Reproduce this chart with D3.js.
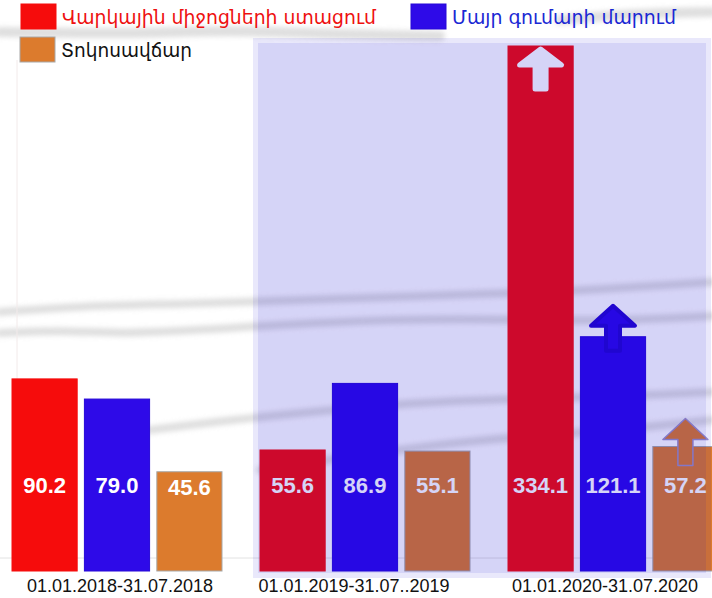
<!DOCTYPE html>
<html>
<head>
<meta charset="utf-8">
<script src="https://cdnjs.cloudflare.com/ajax/libs/d3/7.8.5/d3.min.js"></script>
<style>
  html, body { margin: 0; padding: 0; background: #fff; }
  svg { display: block; }
  .value { font-family: Arial, "Liberation Sans", sans-serif; font-weight: bold; font-size: 22px; fill: #fff; }
  .period { font-family: Arial, "Liberation Sans", sans-serif; font-size: 18px; fill: #111; }
  .legend { font-family: "DejaVu Sans", sans-serif; font-size: 20px; }
</style>
</head>
<body>
<div id="chart"></div>
<script>
// periods on the x axis
var periods = ['01.01.2018-31.07.2018', '01.01.2019-31.07..2019', '01.01.2020-31.07.2020'];
// series
var seriesKeys = ['loans', 'principal', 'interest'];
var seriesNames = ['Վարկային միջոցների ստացում', 'Մայր գումարի մարում', 'Տոկոսավճար'];
var loansReceived = [90.2, 55.6, 334.1];
var principalRepaid = [79.0, 86.9, 121.1];
var interestPaid = [45.6, 55.1, 57.2];
// periods inside the shaded box, and the one marked with growth arrows
var shadedPeriods = [periods[1], periods[2]];
var risingPeriod = periods[2];

var width = 712;
var height = 598;
var colors = { loans: '#f60c0c', principal: '#2e0ae8', interest: '#dc7b2d' };
var strokes = { loans: '#f60c0c', principal: '#2608d8', interest: '#a8a8a8' };
var valuesByKey = { loans: loansReceived, principal: principalRepaid, interest: interestPaid };

var data = periods.map(function (p, i) {
  return {
    period: p,
    values: seriesKeys.map(function (k) { return { key: k, value: valuesByKey[k][i] }; })
  };
});

var x0 = d3.scaleBand().domain(periods).range([12, 12 + 248 * periods.length]);
var x1 = d3.scaleBand().domain(seriesKeys).range([0, 210]).paddingInner(0.1);
var maxValue = d3.max(data, function (d) { return d3.max(d.values, function (v) { return v.value; }); });
// broken scale: the tall 2020 bars are compressed above 85
var y = d3.scaleLinear().domain([0, 85, maxValue]).range([571, 386, 46]);

var svg = d3.select('#chart').append('svg')
  .attr('width', width)
  .attr('height', height);

var defs = svg.append('defs');
defs.append('filter').attr('id', 'smudge')
  .attr('filterUnits', 'userSpaceOnUse')
  .attr('x', -20).attr('y', -20).attr('width', width + 40).attr('height', height + 40)
  .append('feGaussianBlur').attr('stdDeviation', 2.5);
defs.append('clipPath').attr('id', 'plot-clip')
  .append('rect').attr('x', 0).attr('y', 0).attr('width', width).attr('height', height);

// faded background texture
var texture = svg.append('g')
  .attr('filter', 'url(#smudge)')
  .attr('fill', 'none')
  .attr('stroke', '#d4d4d4')
  .attr('stroke-linecap', 'round')
  .attr('opacity', 0.75);
var smudgeLine = d3.line().curve(d3.curveBasis);
[
  [[0, 312], [80, 306], [180, 304], [300, 300], [420, 296], [560, 292], [712, 282]],
  [[0, 333], [60, 330], [120, 334], [200, 330], [320, 322], [460, 318], [600, 322], [712, 316]],
  [[150, 430], [230, 420], [330, 410], [450, 400], [580, 398], [712, 392]],
  [[260, 470], [360, 455], [470, 440], [600, 432], [712, 420]],
  [[560, 20], [620, 14], [712, 12]],
  [[0, 32], [120, 34], [230, 30], [330, 34], [440, 36]]
].forEach(function (pts, i) {
  texture.append('path')
    .attr('d', smudgeLine(pts))
    .attr('stroke-width', i > 3 ? 10 : 8);
});

// faint axis remnants
svg.append('line')
  .attr('x1', 17).attr('x2', 17).attr('y1', 60).attr('y2', 571)
  .attr('stroke', '#f2eaea').attr('stroke-width', 1);
svg.append('line')
  .attr('x1', 0).attr('x2', width).attr('y1', 558).attr('y2', 558)
  .attr('stroke', '#e2e2e2').attr('stroke-width', 1);

var plot = svg.append('g').attr('clip-path', 'url(#plot-clip)');

var groups = plot.selectAll('g.period')
  .data(data)
  .enter().append('g')
  .attr('class', 'period')
  .attr('transform', function (d) { return 'translate(' + x0(d.period) + ',0)'; });

groups.selectAll('rect')
  .data(function (d) { return d.values; })
  .enter().append('rect')
  .attr('x', function (d) { return x1(d.key); })
  .attr('y', function (d) { return y(d.value); })
  .attr('width', x1.bandwidth())
  .attr('height', function (d) { return y(0) - y(d.value); })
  .attr('fill', function (d) { return colors[d.key]; })
  .attr('stroke', function (d) { return strokes[d.key]; })
  .attr('stroke-width', 1);

// growth arrows
function arrowPath(cx, tip, headW, headH, shaftW, len) {
  return 'M' + cx + ',' + tip +
    'L' + (cx + headW / 2) + ',' + (tip + headH) +
    'L' + (cx + shaftW / 2) + ',' + (tip + headH) +
    'L' + (cx + shaftW / 2) + ',' + (tip + len) +
    'L' + (cx - shaftW / 2) + ',' + (tip + len) +
    'L' + (cx - shaftW / 2) + ',' + (tip + headH) +
    'L' + (cx - headW / 2) + ',' + (tip + headH) + 'Z';
}

var arrows = groups.filter(function (d) { return d.period === risingPeriod; })
  .selectAll('path.arrow')
  .data(function (d) { return d.values; })
  .enter().append('path')
  .attr('class', 'arrow')
  .attr('stroke-linejoin', 'round')
  .attr('d', function (d) {
    var cx = x1(d.key) + x1.bandwidth() / 2;
    var top = y(d.value);
    if (d.value === maxValue) {
      return arrowPath(cx, top + 3, 42, 16, 11, 40);
    }
    if (d.key === 'interest') {
      return arrowPath(cx, top - 28, 45, 21, 15, 47);
    }
    return arrowPath(cx, top - 31, 44, 20, 14, 45);
  })
  .attr('fill', function (d) { return d.value === maxValue ? '#fff' : colors[d.key]; })
  .attr('stroke', function (d) {
    if (d.value === maxValue) { return '#fff'; }
    return d.key === 'interest' ? '#9c90c8' : '#2608d0';
  })
  .attr('stroke-width', function (d) {
    if (d.value === maxValue) { return 5; }
    return d.key === 'interest' ? 1.5 : 4;
  });

// value labels
groups.selectAll('text.value')
  .data(function (d) { return d.values; })
  .enter().append('text')
  .attr('class', 'value')
  .attr('text-anchor', 'middle')
  .attr('x', function (d) { return x1(d.key) + x1.bandwidth() / 2; })
  .attr('y', function (d) { return Math.max(493, y(d.value) + 23); })
  .text(function (d) { return d.value.toFixed(1); });

// shaded box over the 2019 and 2020 periods
var boxX = x0(shadedPeriods[0]) - 7;
plot.append('rect')
  .attr('x', boxX).attr('y', 38)
  .attr('width', width - boxX - 1).attr('height', 540)
  .attr('fill', 'rgb(13,2,213)').attr('fill-opacity', 0.09);
plot.append('rect')
  .attr('x', boxX + 5).attr('y', 43)
  .attr('width', width - boxX - 11).attr('height', 530)
  .attr('fill', 'rgb(13,2,213)').attr('fill-opacity', 0.085);

// period labels
svg.selectAll('text.period')
  .data(periods)
  .enter().append('text')
  .attr('class', 'period')
  .attr('text-anchor', 'middle')
  .attr('x', function (d, i) { return x0(d) + [108, 94, 97][i]; })
  .attr('y', 592)
  .text(function (d) { return d; });

// legend
var legendItems = [
  { key: 'loans', x: 21, y: 4, textColor: '#ee1010', len: 314 },
  { key: 'principal', x: 411, y: 4, textColor: '#1a28d4', len: 224 },
  { key: 'interest', x: 20, y: 37, textColor: '#111', len: 131 }
];
var legend = svg.append('g');
legendItems.forEach(function (item) {
  var i = seriesKeys.indexOf(item.key);
  legend.append('rect')
    .attr('x', item.x).attr('y', item.y)
    .attr('width', 35).attr('height', 25)
    .attr('fill', colors[item.key])
    .attr('stroke', item.key === 'interest' ? '#a8a8a8' : strokes[item.key]);
  legend.append('text')
    .attr('class', 'legend')
    .attr('x', item.x + 41)
    .attr('y', item.y + 20)
    .attr('fill', item.textColor)
    .attr('textLength', item.len)
    .attr('lengthAdjust', 'spacingAndGlyphs')
    .text(seriesNames[i]);
});
</script>
</body>
</html>
